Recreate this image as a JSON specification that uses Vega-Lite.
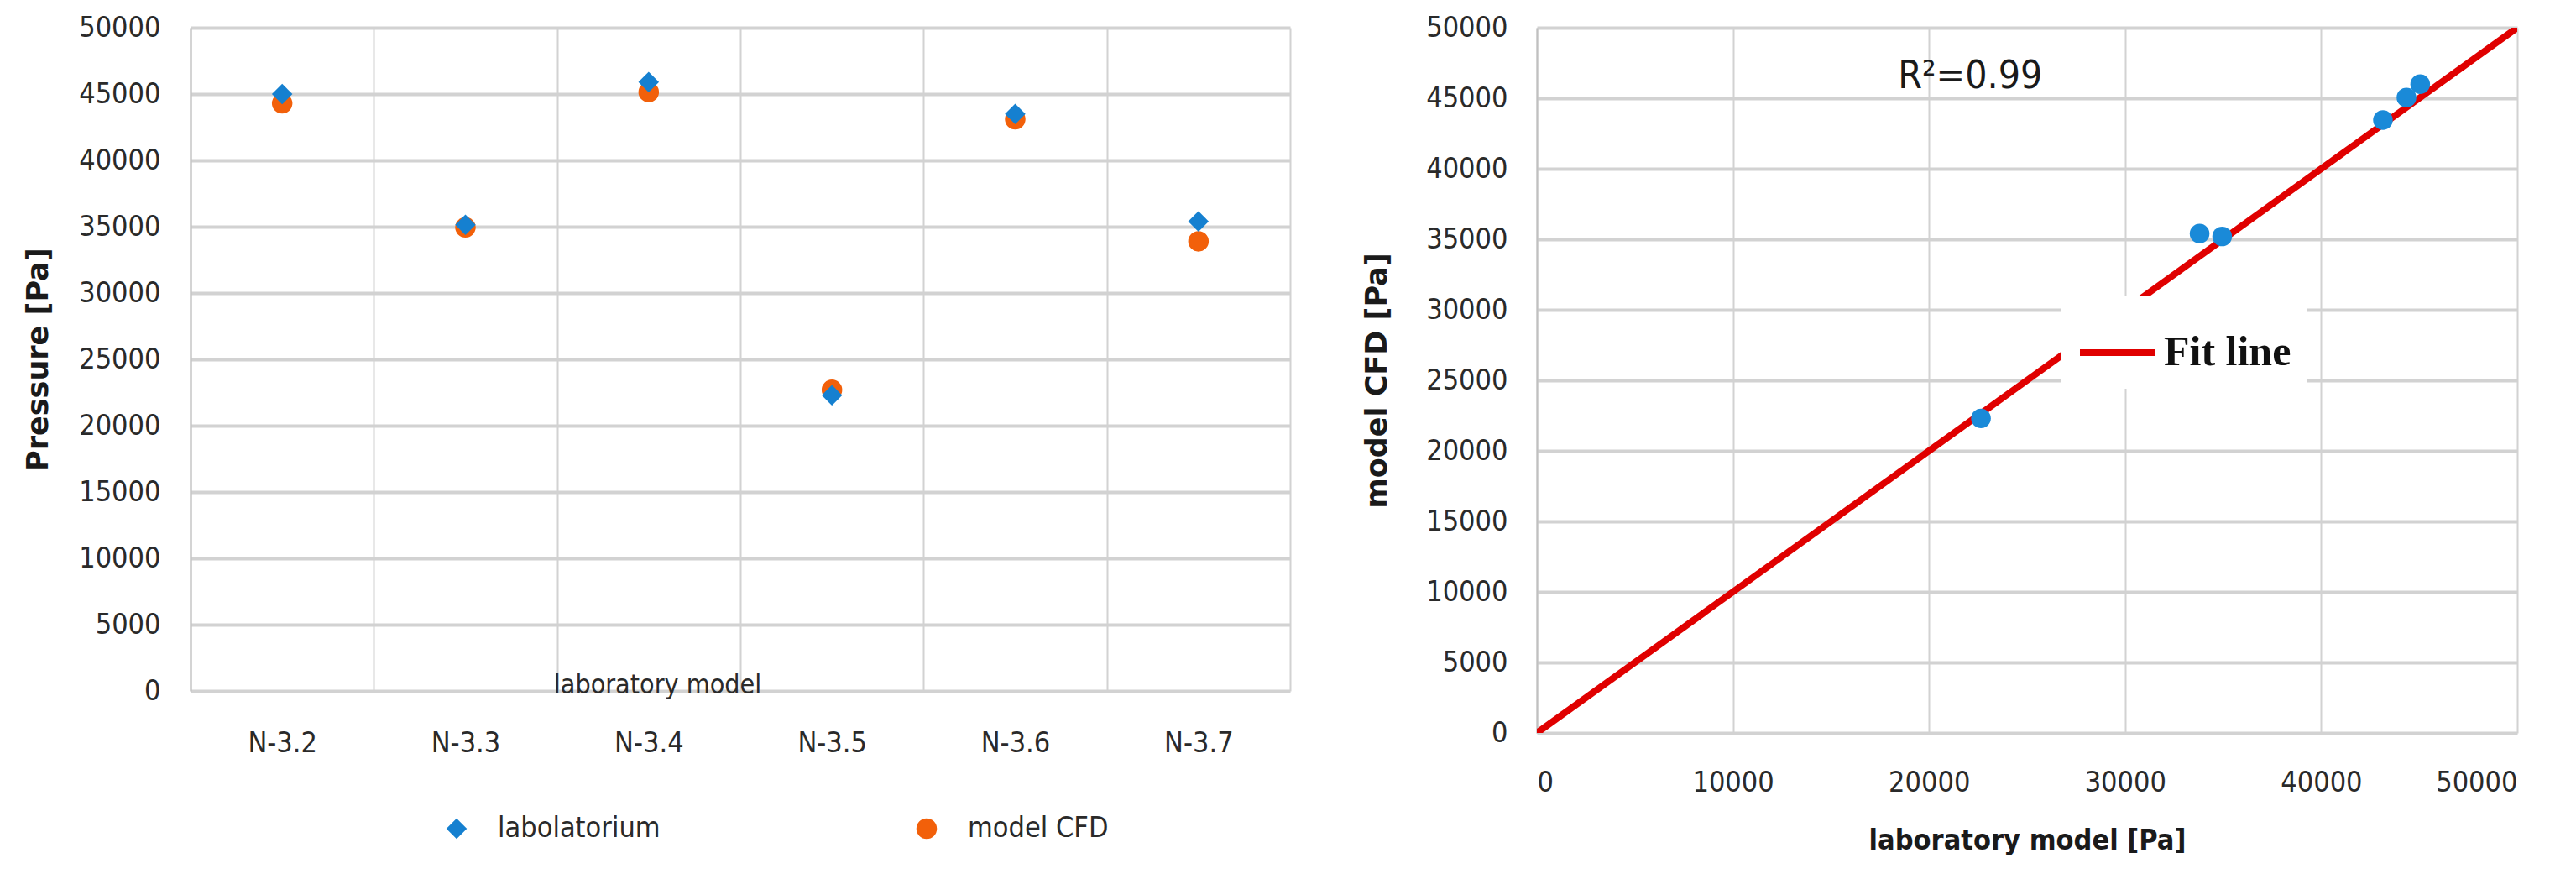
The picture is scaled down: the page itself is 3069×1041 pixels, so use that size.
{
  "$schema": "https://vega.github.io/schema/vega-lite/v6.json",
  "background": "white",
  "padding": {"left": 28, "top": 16, "right": 20, "bottom": 0},
  "spacing": 86,
  "config": {
    "view": {"stroke": null},
    "font": "DejaVu Sans Condensed, Liberation Sans",
    "axis": {
      "labelFont": "DejaVu Sans Condensed, Liberation Sans",
      "titleFont": "DejaVu Sans, Liberation Sans",
      "labelColor": "#2a2a2a",
      "titleColor": "#1a1a1a",
      "labelFontSize": 34,
      "titleFontSize": 35,
      "gridColor": "#d2d2d2",
      "ticks": false
    }
  },
  "resolve": {
    "scale": {"color": "independent", "shape": "independent", "x": "independent", "y": "independent"},
    "legend": {"color": "independent", "shape": "independent"}
  },
  "hconcat": [
    {
      "width": 1310,
      "height": 790,
      "data": {
        "values": [
          {"sample": "N-3.2", "series": "model CFD", "pressure": 44300},
          {"sample": "N-3.3", "series": "model CFD", "pressure": 34950},
          {"sample": "N-3.4", "series": "model CFD", "pressure": 45150},
          {"sample": "N-3.5", "series": "model CFD", "pressure": 22700},
          {"sample": "N-3.6", "series": "model CFD", "pressure": 43100},
          {"sample": "N-3.7", "series": "model CFD", "pressure": 33900},
          {"sample": "N-3.2", "series": "labolatorium", "pressure": 45000},
          {"sample": "N-3.3", "series": "labolatorium", "pressure": 35150},
          {"sample": "N-3.4", "series": "labolatorium", "pressure": 45900},
          {"sample": "N-3.5", "series": "labolatorium", "pressure": 22300},
          {"sample": "N-3.6", "series": "labolatorium", "pressure": 43500},
          {"sample": "N-3.7", "series": "labolatorium", "pressure": 35400}
        ]
      },
      "mark": {"type": "point", "filled": true, "size": 600, "opacity": 1, "strokeWidth": 0},
      "encoding": {
        "x": {
          "field": "sample",
          "type": "nominal",
          "sort": null,
          "scale": {"paddingInner": 0, "paddingOuter": 0},
          "axis": {
            "title": "laboratory model",
            "titleFont": "DejaVu Sans Condensed, Liberation Sans",
            "titleFontWeight": "normal",
            "titleFontSize": 32,
            "titleColor": "#2a2a2a",
            "titleX": 556,
            "titleY": -8,
            "titleBaseline": "middle",
            "labelAngle": 0,
            "labelPadding": 45,
            "tickBand": "extent",
            "grid": true,
            "gridWidth": 2,
            "domain": false
          }
        },
        "y": {
          "field": "pressure",
          "type": "quantitative",
          "scale": {"domain": [0, 50000], "nice": false},
          "axis": {
            "title": "Pressure [Pa]",
            "titleFontWeight": "bold",
            "titlePadding": 30,
            "values": [0, 5000, 10000, 15000, 20000, 25000, 30000, 35000, 40000, 45000, 50000],
            "format": "d",
            "labelPadding": 36,
            "gridWidth": 4,
            "domain": true,
            "domainColor": "#c0c0c0",
            "domainWidth": 2
          }
        },
        "shape": {
          "field": "series",
          "type": "nominal",
          "scale": {"domain": ["labolatorium", "model CFD"], "range": ["diamond", "circle"]},
          "legend": null
        },
        "color": {
          "field": "series",
          "type": "nominal",
          "scale": {"domain": ["labolatorium", "model CFD"], "range": ["#1580d0", "#f2600a"]},
          "legend": {
            "title": null,
            "orient": "none",
            "direction": "horizontal",
            "legendX": 300,
            "legendY": 937,
            "columnPadding": 300,
            "labelFont": "DejaVu Sans Condensed, Liberation Sans",
            "labelFontSize": 34,
            "labelLimit": 0,
            "labelColor": "#2a2a2a",
            "labelOffset": 32,
            "symbolSize": 600,
            "symbolStrokeWidth": 0
          }
        }
      }
    },
    {
      "width": 1168,
      "height": 840,
      "layer": [
        {
          "data": {
            "values": [
              {"lab": 0, "cfd": 0, "series": "Fit line"},
              {"lab": 50000, "cfd": 50000, "series": "Fit line"}
            ]
          },
          "mark": {"type": "line", "strokeWidth": 8, "clip": true},
          "encoding": {
            "x": {
              "field": "lab",
              "type": "quantitative",
              "scale": {"domain": [0, 50000], "nice": false},
              "axis": {
                "title": "laboratory model [Pa]",
                "titleFont": "DejaVu Sans Condensed, Liberation Sans",
                "titleFontWeight": "bold",
                "titleFontSize": 34,
                "titlePadding": 35,
                "values": [0, 10000, 20000, 30000, 40000, 50000],
                "format": "d",
                "labelPadding": 42,
                "gridWidth": 2,
                "domain": false
              }
            },
            "y": {
              "field": "cfd",
              "type": "quantitative",
              "scale": {"domain": [0, 50000], "nice": false},
              "axis": {
                "title": "model CFD [Pa]",
                "titleFontWeight": "bold",
                "titlePadding": 40,
                "values": [0, 5000, 10000, 15000, 20000, 25000, 30000, 35000, 40000, 45000, 50000],
                "format": "d",
                "labelPadding": 35,
                "gridWidth": 4,
                "domain": true,
                "domainColor": "#c0c0c0",
                "domainWidth": 2
              }
            },
            "color": {
              "field": "series",
              "type": "nominal",
              "scale": {"domain": ["Fit line"], "range": ["#e00000"]},
              "legend": {
                "title": null,
                "orient": "none",
                "legendX": 625,
                "legendY": 320,
                "fillColor": "white",
                "padding": 18,
                "symbolType": "stroke",
                "symbolStrokeWidth": 8,
                "symbolSize": 8100,
                "labelFont": "Liberation Serif",
                "labelFontWeight": "bold",
                "labelFontSize": 50,
                "labelColor": "#111111",
                "labelOffset": 6
              }
            }
          }
        },
        {
          "data": {
            "values": [
              {"lab": 22650, "cfd": 22300},
              {"lab": 33800, "cfd": 35400},
              {"lab": 34950, "cfd": 35200},
              {"lab": 43150, "cfd": 43450},
              {"lab": 44350, "cfd": 45050},
              {"lab": 45050, "cfd": 46000}
            ]
          },
          "mark": {"type": "point", "shape": "circle", "filled": true, "size": 550, "color": "#1a8ad8", "opacity": 1},
          "encoding": {
            "x": {"field": "lab", "type": "quantitative"},
            "y": {"field": "cfd", "type": "quantitative"}
          }
        },
        {
          "data": {"values": [{"lab": 22100, "cfd": 46550, "label": "R²=0.99"}]},
          "mark": {"type": "text", "font": "DejaVu Sans Condensed, Liberation Sans", "fontSize": 46, "color": "#1a1a1a", "align": "center", "baseline": "middle"},
          "encoding": {
            "x": {"field": "lab", "type": "quantitative"},
            "y": {"field": "cfd", "type": "quantitative"},
            "text": {"field": "label"}
          }
        }
      ]
    }
  ]
}
